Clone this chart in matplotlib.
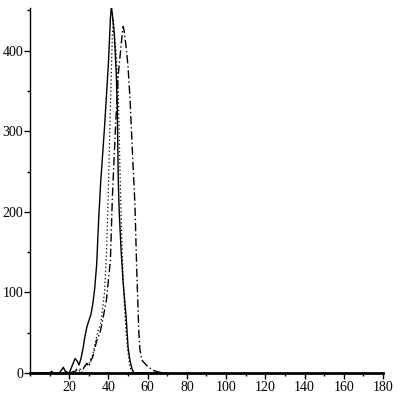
import matplotlib
matplotlib.use("Agg")
import matplotlib.pyplot as plt
from matplotlib.ticker import MultipleLocator

# solid curve
x_solid = [2, 10, 11, 12, 15, 17, 18, 20, 22, 23, 24, 25, 26, 27, 28, 29, 30, 31, 32,
           33, 34, 35, 36, 37, 38, 39, 40, 41, 41.5, 42, 43, 44, 44.5, 45, 45.5, 46.5,
           47.5, 49, 50, 51, 52, 53, 70]
y_solid = [0, 0, 2, 0, 0, 7, 2, 0, 12, 18, 15, 10, 18, 30, 45, 57, 65, 72, 85,
           105, 135, 190, 235, 270, 305, 345, 385, 440, 455, 445, 420, 370, 330, 240, 200, 150,
           112, 70, 32, 15, 5, 0, 0]

# dotted curve
x_dot = [20, 23, 24, 25, 26, 28, 29, 30, 31, 32, 33, 34, 35, 36, 37, 38, 39, 40, 41,
         42, 42.5, 43, 44, 45, 46, 47, 48, 49, 50, 51, 52]
y_dot = [0, 3, 5, 3, 0, 8, 12, 10, 18, 22, 35, 45, 55, 60, 80, 100, 150, 230, 330,
         420, 440, 420, 395, 350, 240, 150, 90, 50, 25, 8, 0]

# dash-dot curve
x_dd = [20, 23, 24, 27, 29, 30, 31, 32, 33, 34, 35.7, 37, 39, 41, 42, 43.5, 45, 46, 47,
        47.5, 48, 49, 50, 51, 52.5, 53.5, 54.4, 55.5, 56, 57, 60, 63, 66, 68]
y_dd = [0, 2, 4, 5, 12, 8, 15, 20, 30, 40, 50, 65, 91, 140, 218, 300, 370, 395, 420,
        430, 425, 405, 380, 340, 260, 210, 130, 50, 30, 16, 8, 3, 1, 0]

fig = plt.figure(figsize=(4, 4), dpi=100)
ax = fig.add_axes([0.075, 0.0675, 0.8825, 0.9125])

ax.plot(x_solid, y_solid, color="black", linewidth=1.0, linestyle="-")
ax.plot(x_dot, y_dot, color="black", linewidth=0.9, linestyle=(0, (1, 2)))
ax.plot(x_dd, y_dd, color="black", linewidth=1.0, linestyle=(0, (6, 2, 1, 2)))

ax.set_xlim(0, 180)
ax.set_ylim(0, 453)
ax.spines["top"].set_visible(False)
ax.spines["right"].set_visible(False)
ax.spines["left"].set_linewidth(1.0)
ax.spines["bottom"].set_linewidth(2.0)

ax.set_xticks([20, 40, 60, 80, 100, 120, 140, 160, 180])
ax.set_yticks([0, 100, 200, 300, 400])
ax.xaxis.set_minor_locator(MultipleLocator(10))
ax.yaxis.set_minor_locator(MultipleLocator(50))
ax.tick_params(which="major", direction="out", length=4, width=1, labelsize=10)
ax.tick_params(which="minor", direction="out", length=2.5, width=1)
ax.tick_params(axis="x", pad=2)
ax.tick_params(axis="y", pad=1)
for lab in ax.get_xticklabels() + ax.get_yticklabels():
    lab.set_fontfamily("Liberation Serif")

fig.savefig("out.png", dpi=100)
